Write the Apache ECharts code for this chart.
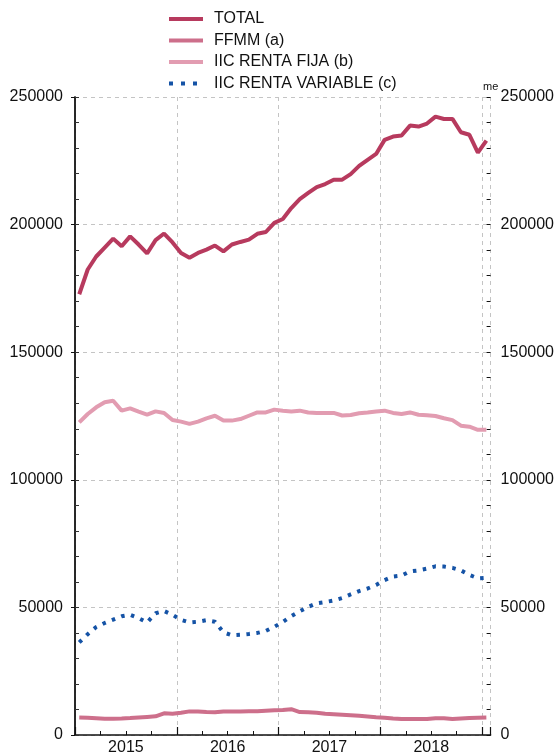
<!DOCTYPE html>
<html>
<head>
<meta charset="utf-8">
<script src="https://cdn.jsdelivr.net/npm/echarts@6/dist/echarts.min.js"></script>
<style>
html,body{margin:0;padding:0;background:#fff;}
#main{width:557px;height:756px;}
</style>
</head>
<body>
<div id="main"></div>
<script>
// Monthly data, Jan 2015 .. Jan 2019 (index 0..48)
var years = ['2015', '2016', '2017', '2018'];
var seriesNames = ['TOTAL', 'FFMM (a)', 'IIC RENTA FIJA (b)', 'IIC RENTA VARIABLE (c)'];
var total = [172700,182400,187500,191000,194500,191500,195400,192200,188700,193900,196500,193000,
             188900,187000,188900,190200,191800,189500,192200,193200,194100,196400,197100,200700,
             202200,206500,210000,212400,214700,215900,217600,217600,219800,223000,225400,227700,
             233200,234500,234900,238800,238400,239600,242300,241400,241400,236200,235200,228200,232900];
var ffmm = [6900,6800,6600,6400,6400,6500,6700,6900,7100,7300,8500,8300,
            8700,9250,9200,9000,8900,9250,9250,9250,9300,9300,9500,9700,
            9800,10100,9000,8950,8700,8300,8100,7900,7700,7500,7250,7000,
            6800,6500,6250,6250,6300,6300,6600,6600,6300,6500,6700,6800,6900];
var rentaFija = [122500,125800,128400,130400,131000,127100,128000,126700,125500,126800,126200,123400,
                 122800,121900,122800,124100,125100,123200,123200,123800,125100,126400,126400,127500,
                 127100,126800,127100,126400,126200,126200,126200,125200,125400,126100,126400,126800,
                 127100,126200,125800,126400,125500,125300,125000,124100,123400,121200,120800,119600,119600];
var rentaVariable = [36300,39500,42300,43900,45200,46500,47100,45800,44100,47700,48600,47100,
                     45100,44100,44400,45000,44400,40200,39100,39300,39600,40000,40800,42400,
                     44300,46600,48500,50200,51600,52100,52700,53700,55100,56400,57400,58800,
                     60700,62100,62500,64100,64500,65200,66100,66000,65500,64500,62700,61400,61600];
var unitLabel = 'me';

function toPoints(arr) {
  return arr.map(function (v, i) { return [i + 0.5, v]; });
}

var font = 'Liberation Sans, Arial, Helvetica, sans-serif';
var chart = echarts.init(document.getElementById('main'), null, {renderer: 'canvas'});

var colors = ['#b73a5e', '#cd6f8b', '#e29cb1', '#1553a6'];
var solidIcon = 'path://M0,0h34v4h-34z';
var dotIcon = 'path://M0,0h4v4h-4z M12,0h4v4h-4z M24,0h4v4h-4z M33.9,1.9h0.1v0.1h-0.1z';

var grid = {left: 75, right: 64, top: 97, bottom: 19, containLabel: false};
var gridW = 557 - grid.left - grid.right;

function hiddenTickY(pos, color) {
  return {
    type: 'value', min: 0, max: 250000, interval: 10000, position: pos,
    axisLine: {show: false}, axisLabel: {show: false}, splitLine: {show: false},
    axisTick: {show: true, inside: true, length: 4, lineStyle: {color: color, width: 1}}
  };
}

var option = {
  animation: false,
  backgroundColor: '#fff',
  textStyle: {fontFamily: font},
  legend: {
    orient: 'vertical',
    left: 164,
    top: 6,
    itemWidth: 34,
    itemHeight: 14,
    itemGap: 5.5,
    textStyle: {fontFamily: font, fontSize: 16, color: '#111', padding: [0, 0, 0, 6]},
    data: [
      {name: seriesNames[0], icon: solidIcon},
      {name: seriesNames[1], icon: solidIcon},
      {name: seriesNames[2], icon: solidIcon},
      {name: seriesNames[3], icon: dotIcon}
    ]
  },
  grid: grid,
  graphic: [{
    type: 'text', left: grid.left + gridW - 10, top: 81, z: 10,
    style: {text: unitLabel, fontSize: 11, fontFamily: font, fill: '#111'}
  }],
  xAxis: [{
    type: 'value', min: 0, max: 49, interval: 12,
    position: 'bottom',
    axisLine: {show: true, lineStyle: {color: '#111', width: 1.5}},
    axisTick: {show: true, inside: true, length: 8, lineStyle: {color: '#111', width: 1.2}},
    axisLabel: {show: false},
    splitLine: {show: true, lineStyle: {color: '#c4c4c4', type: [4, 4], width: 1}}
  }, {
    type: 'value', min: 0, max: 49, interval: 6,
    position: 'bottom',
    axisLine: {show: false}, axisTick: {show: false}, splitLine: {show: false},
    axisLabel: {
      show: true, margin: 5, fontSize: 16, color: '#111', fontFamily: font,
      showMinLabel: true, showMaxLabel: true,
      formatter: function (v) {
        if (v % 12 === 6) { return years[(v - 6) / 12]; }
        return '';
      }
    }
  }, {
    type: 'value', min: 0, max: 49, interval: 3,
    position: 'bottom',
    axisLine: {show: false}, axisLabel: {show: false}, splitLine: {show: false},
    axisTick: {show: true, inside: true, length: 4, lineStyle: {color: '#111', width: 1}}
  }],
  yAxis: [{
    type: 'value', min: 0, max: 250000, interval: 50000, position: 'left',
    axisLine: {show: true, lineStyle: {color: '#444', width: 1.5}},
    axisTick: {show: true, inside: true, length: 4, lineStyle: {color: '#333'}},
    axisLabel: {margin: 12, fontSize: 16, color: '#111', fontFamily: font,
                formatter: function (v) { return String(v); }},
    splitLine: {show: true, lineStyle: {color: '#c4c4c4', type: [4, 4], width: 1}}
  }, {
    type: 'value', min: 0, max: 250000, interval: 50000, position: 'right',
    axisLine: {show: true, lineStyle: {color: '#111', width: 1.5}},
    axisTick: {show: true, inside: true, length: 4, lineStyle: {color: '#111'}},
    axisLabel: {margin: 10, fontSize: 16, color: '#111', fontFamily: font,
                formatter: function (v) { return String(v); }},
    splitLine: {show: false}
  }, hiddenTickY('left', '#333'), hiddenTickY('right', '#111')],
  series: [{
    name: seriesNames[0], type: 'line', xAxisIndex: 0, yAxisIndex: 0,
    data: toPoints(total), symbol: 'none', showSymbol: false, z: 5,
    lineStyle: {color: colors[0], width: 4}, itemStyle: {color: colors[0]}
  }, {
    name: seriesNames[1], type: 'line', xAxisIndex: 0, yAxisIndex: 0,
    data: toPoints(ffmm), symbol: 'none', showSymbol: false, z: 4,
    lineStyle: {color: colors[1], width: 4}, itemStyle: {color: colors[1]}
  }, {
    name: seriesNames[2], type: 'line', xAxisIndex: 0, yAxisIndex: 0,
    data: toPoints(rentaFija), symbol: 'none', showSymbol: false, z: 4,
    lineStyle: {color: colors[2], width: 4}, itemStyle: {color: colors[2]}
  }, {
    name: seriesNames[3], type: 'line', xAxisIndex: 0, yAxisIndex: 0,
    data: toPoints(rentaVariable), symbol: 'none', showSymbol: false, z: 4,
    lineStyle: {color: colors[3], width: 4, type: [3.5, 6.5], cap: 'butt'}, itemStyle: {color: colors[3]}
  }]
};
chart.setOption(option);
</script>
</body>
</html>
